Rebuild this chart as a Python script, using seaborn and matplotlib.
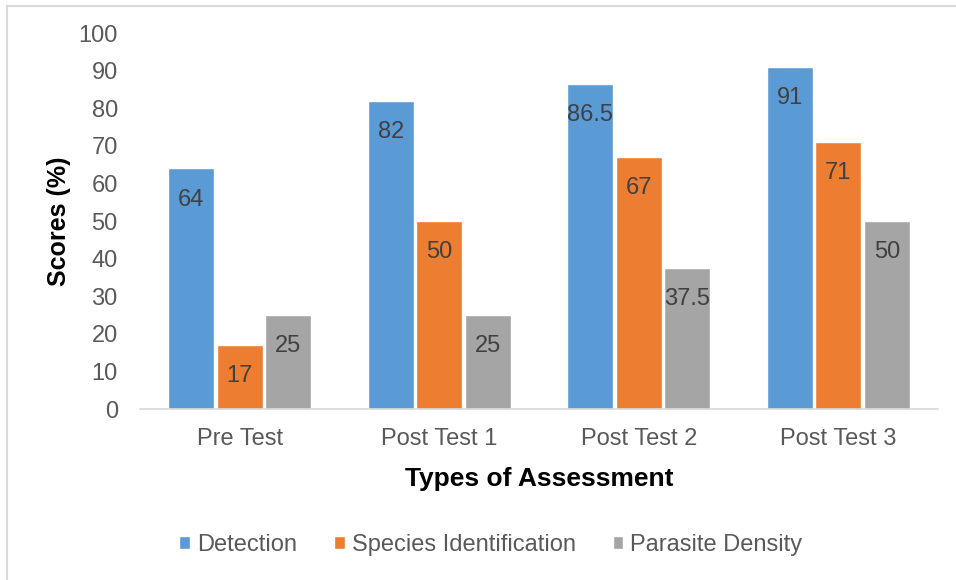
import pandas as pd
import matplotlib.pyplot as plt
import seaborn as sns
from matplotlib.lines import Line2D

# Chart values
assessments = ["Pre Test", "Post Test 1", "Post Test 2", "Post Test 3"]
series_names = ["Detection", "Species Identification", "Parasite Density"]
detection = [64, 82, 86.5, 91]
species_id = [17, 50, 67, 71]
parasite_density = [25, 25, 37.5, 50]
colors = ["#5B9BD5", "#ED7D31", "#A5A5A5"]

# Long-form table for seaborn
rows = []
for name, vals in zip(series_names, [detection, species_id, parasite_density]):
    for cat, v in zip(assessments, vals):
        rows.append({"Assessment": cat, "Series": name, "Score": v})
df = pd.DataFrame(rows)

sns.set_style("white")
plt.rcParams["font.family"] = ["Liberation Sans", "DejaVu Sans"]

W, H = 956, 580
fig = plt.figure(figsize=(W / 100, H / 100), dpi=100)
ax = fig.add_axes([140 / W, 1 - 409 / H, (938 - 140) / W, (409 - 33) / H])

sns.barplot(data=df, x="Assessment", y="Score", hue="Series",
            order=assessments, hue_order=series_names, palette=colors,
            width=0.73, gap=0.06, saturation=1, ax=ax)

# Value labels inside the bars, near the top
for container in ax.containers:
    for bar in container:
        v = bar.get_height()
        ax.annotate(f"{v:g}", (bar.get_x() + bar.get_width() / 2, v),
                    xytext=(0, -22.5), textcoords="offset points",
                    ha="center", va="center", fontsize=17, color="#404040")

ax.set_ylim(0, 100)
ax.set_yticks(range(0, 101, 10))
ax.set_xlim(-0.5, 3.5)
ax.tick_params(axis="both", length=0, labelsize=17, labelcolor="#595959")
ax.tick_params(axis="y", pad=16)
ax.tick_params(axis="x", pad=14)

ax.set_xlabel("Types of Assessment", fontsize=19, fontweight="bold",
              color="black", labelpad=12)
ax.set_ylabel("Scores (%)", fontsize=18, fontweight="bold",
              color="black", labelpad=5)

for side in ["top", "right", "left"]:
    ax.spines[side].set_visible(False)
ax.spines["bottom"].set_color("#D9D9D9")
ax.spines["bottom"].set_linewidth(1.2)

handles, labels = ax.get_legend_handles_labels()
ax.get_legend().remove()
fig.legend(handles, labels, loc="center", bbox_to_anchor=(491 / W, 1 - 545 / H),
           ncol=3, frameon=False, fontsize=17, labelcolor="#595959",
           handlelength=0.46, handleheight=0.46, handletextpad=0.3,
           columnspacing=1.55)

# Light frame on the left and top edges
fig.add_artist(Line2D([6.5 / W, 6.5 / W], [0, 1 - 5.5 / H],
                      transform=fig.transFigure, color="#D9D9D9", lw=1.5))
fig.add_artist(Line2D([6.5 / W, 1], [1 - 5.5 / H, 1 - 5.5 / H],
                      transform=fig.transFigure, color="#D9D9D9", lw=1.5))

fig.savefig("out.png", dpi=100)
